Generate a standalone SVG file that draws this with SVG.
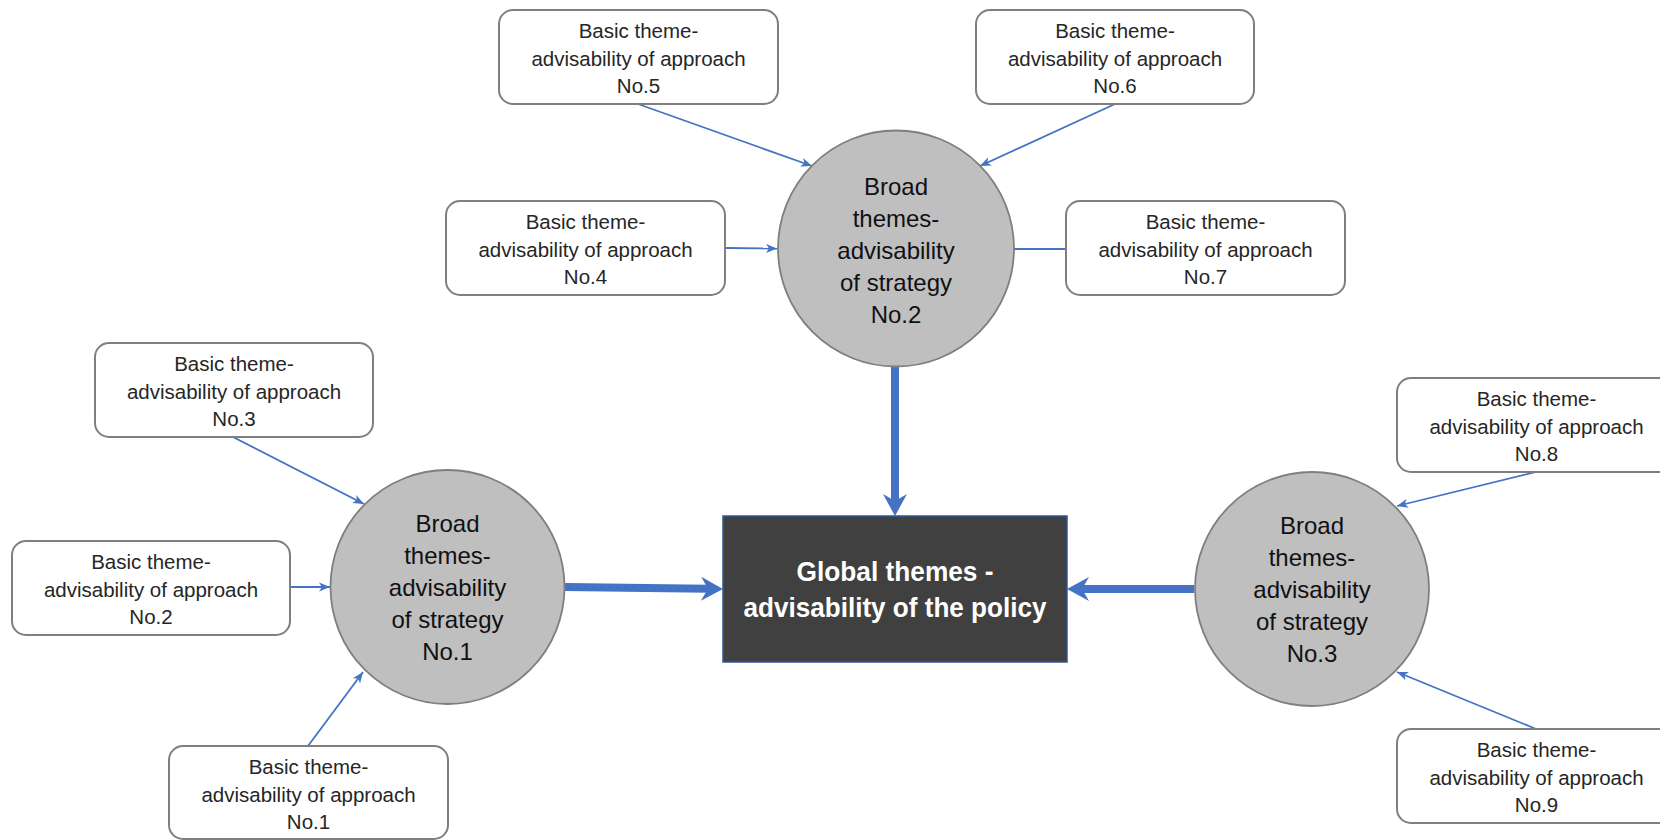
<svg xmlns="http://www.w3.org/2000/svg" width="1660" height="840" viewBox="0 0 1660 840">
<style>
.box{fill:#ffffff;stroke:#7f7f7f;stroke-width:2}
.circ{fill:#bfbfbf;stroke:#7f7f7f;stroke-width:1.8}
.bt{font-family:"Liberation Sans",Arial,sans-serif;font-size:20.5px;fill:#262626;text-anchor:middle}
.ct{font-family:"Liberation Sans",Arial,sans-serif;font-size:24px;fill:#111111;text-anchor:middle}
.gt{font-family:"Liberation Sans",Arial,sans-serif;font-size:28.5px;font-weight:bold;fill:#ffffff;text-anchor:middle}
.thin{stroke:#4472c4;stroke-width:1.8;fill:none}
.thick{stroke:#4472c4;stroke-width:8;fill:none}
</style>
<defs>
<marker id="aThin" markerUnits="userSpaceOnUse" markerWidth="12" markerHeight="10" refX="11" refY="4.5" orient="auto" overflow="visible">
<path d="M0,0 L11,4.5 L0,9 L3,4.5 Z" fill="#4472c4"/>
</marker>
<marker id="aThick" markerUnits="userSpaceOnUse" markerWidth="24" markerHeight="26" refX="7" refY="12" orient="auto" overflow="visible">
<path d="M0,0 L22,12 L0,24 L7,12 Z" fill="#4472c4"/>
</marker>
</defs>
<g id="connectors">
<line class="thin" x1="638" y1="104" x2="812" y2="166" marker-end="url(#aThin)"/>
<line class="thin" x1="1115" y1="104" x2="980" y2="166" marker-end="url(#aThin)"/>
<line class="thin" x1="725" y1="248" x2="777" y2="248.5" marker-end="url(#aThin)"/>
<line class="thin" x1="1013" y1="249" x2="1066" y2="249"/>
<line class="thin" x1="233" y1="437" x2="364" y2="504" marker-end="url(#aThin)"/>
<line class="thin" x1="291" y1="587" x2="330" y2="587" marker-end="url(#aThin)"/>
<line class="thin" x1="308" y1="746" x2="363" y2="672" marker-end="url(#aThin)"/>
<line class="thin" x1="1536" y1="472" x2="1397" y2="506" marker-end="url(#aThin)"/>
<line class="thin" x1="1536" y1="729" x2="1397" y2="672" marker-end="url(#aThin)"/>
<line class="thick" x1="895" y1="366" x2="895" y2="501" marker-end="url(#aThick)"/>
<line class="thick" x1="565" y1="587" x2="708" y2="588.8" marker-end="url(#aThick)"/>
<line class="thick" x1="1194" y1="589" x2="1082" y2="589" marker-end="url(#aThick)"/>
</g>
<g id="global">
<rect x="723" y="516" width="344" height="146" fill="#404040" stroke="#2f5597" stroke-width="1.5"/>
<text class="gt" x="895" y="581" textLength="197" lengthAdjust="spacingAndGlyphs">Global themes -</text>
<text class="gt" x="895" y="617" textLength="303" lengthAdjust="spacingAndGlyphs">advisability of the policy</text>
</g>
<g id="strategy1">
<circle class="circ" cx="447.5" cy="587" r="117"/>
<text class="ct" x="447.5" y="532">Broad</text>
<text class="ct" x="447.5" y="564">themes-</text>
<text class="ct" x="447.5" y="596">advisability</text>
<text class="ct" x="447.5" y="628">of strategy</text>
<text class="ct" x="447.5" y="660">No.1</text>
</g>
<g id="strategy2">
<circle class="circ" cx="896" cy="248.5" r="118"/>
<text class="ct" x="896" y="194.5">Broad</text>
<text class="ct" x="896" y="226.5">themes-</text>
<text class="ct" x="896" y="258.5">advisability</text>
<text class="ct" x="896" y="290.5">of strategy</text>
<text class="ct" x="896" y="322.5">No.2</text>
</g>
<g id="strategy3">
<circle class="circ" cx="1312" cy="589" r="117"/>
<text class="ct" x="1312" y="534">Broad</text>
<text class="ct" x="1312" y="566">themes-</text>
<text class="ct" x="1312" y="598">advisability</text>
<text class="ct" x="1312" y="630">of strategy</text>
<text class="ct" x="1312" y="662">No.3</text>
</g>
<g id="approach5">
<rect class="box" x="499" y="10" width="279" height="94" rx="14"/>
<text class="bt" x="638.5" y="38">Basic theme-</text>
<text class="bt" x="638.5" y="65.5">advisability of approach</text>
<text class="bt" x="638.5" y="93">No.5</text>
</g>
<g id="approach6">
<rect class="box" x="976" y="10" width="278" height="94" rx="14"/>
<text class="bt" x="1115" y="38">Basic theme-</text>
<text class="bt" x="1115" y="65.5">advisability of approach</text>
<text class="bt" x="1115" y="93">No.6</text>
</g>
<g id="approach4">
<rect class="box" x="446" y="201" width="279" height="94" rx="14"/>
<text class="bt" x="585.5" y="229">Basic theme-</text>
<text class="bt" x="585.5" y="256.5">advisability of approach</text>
<text class="bt" x="585.5" y="284">No.4</text>
</g>
<g id="approach7">
<rect class="box" x="1066" y="201" width="279" height="94" rx="14"/>
<text class="bt" x="1205.5" y="229">Basic theme-</text>
<text class="bt" x="1205.5" y="256.5">advisability of approach</text>
<text class="bt" x="1205.5" y="284">No.7</text>
</g>
<g id="approach3">
<rect class="box" x="95" y="343" width="278" height="94" rx="14"/>
<text class="bt" x="234" y="371">Basic theme-</text>
<text class="bt" x="234" y="398.5">advisability of approach</text>
<text class="bt" x="234" y="426">No.3</text>
</g>
<g id="approach2">
<rect class="box" x="12" y="541" width="278" height="94" rx="14"/>
<text class="bt" x="151" y="569">Basic theme-</text>
<text class="bt" x="151" y="596.5">advisability of approach</text>
<text class="bt" x="151" y="624">No.2</text>
</g>
<g id="approach1">
<rect class="box" x="169" y="746" width="279" height="93" rx="14"/>
<text class="bt" x="308.5" y="774">Basic theme-</text>
<text class="bt" x="308.5" y="801.5">advisability of approach</text>
<text class="bt" x="308.5" y="829">No.1</text>
</g>
<g id="approach8">
<rect class="box" x="1397" y="378" width="279" height="94" rx="14"/>
<text class="bt" x="1536.5" y="406">Basic theme-</text>
<text class="bt" x="1536.5" y="433.5">advisability of approach</text>
<text class="bt" x="1536.5" y="461">No.8</text>
</g>
<g id="approach9">
<rect class="box" x="1397" y="729" width="279" height="94" rx="14"/>
<text class="bt" x="1536.5" y="757">Basic theme-</text>
<text class="bt" x="1536.5" y="784.5">advisability of approach</text>
<text class="bt" x="1536.5" y="812">No.9</text>
</g>
</svg>
